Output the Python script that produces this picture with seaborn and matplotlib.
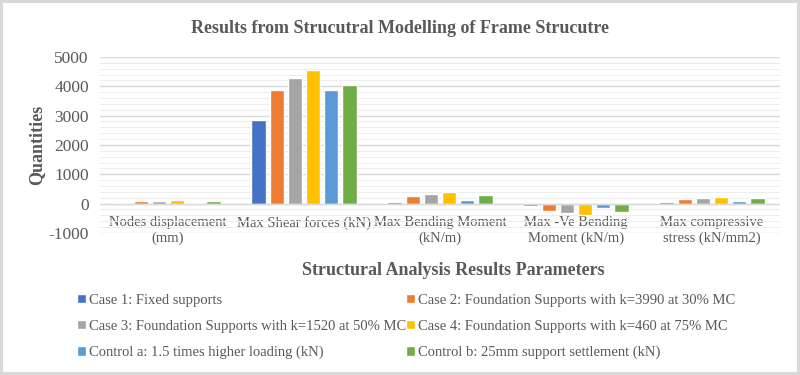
import pandas as pd
import matplotlib.pyplot as plt
import seaborn as sns
from matplotlib.ticker import MultipleLocator

categories = ['Nodes displacement\n(mm)', 'Max Shear forces (kN)', 'Max Bending Moment\n(kN/m)',
              'Max -Ve Bending\nMoment (kN/m)', 'Max compressive\nstress (kN/mm2)']
series = ['Case 1: Fixed supports',
          'Case 2: Foundation Supports with k=3990 at 30% MC',
          'Case 3: Foundation Supports with k=1520 at 50% MC',
          'Case 4: Foundation Supports with k=460 at 75% MC',
          'Control a: 1.5 times higher loading (kN)',
          'Control b: 25mm support settlement (kN)']
case1 = [5, 2865, 70, -100, 70]
case2 = [80, 3866, 270, -270, 160]
case3 = [90, 4290, 340, -330, 195]
case4 = [110, 4573, 380, -385, 225]
control_a = [5, 3890, 125, -160, 80]
control_b = [80, 4060, 305, -295, 180]
colors = ['#4472C4', '#ED7D31', '#A5A5A5', '#FFC000', '#5B9BD5', '#70AD47']

rows = []
for name, vals in zip(series, [case1, case2, case3, case4, control_a, control_b]):
    for cat, v in zip(categories, vals):
        rows.append({'Parameter': cat, 'Series': name, 'Value': v})
df = pd.DataFrame(rows)

sns.set_style('white')
plt.rcParams['font.family'] = ['Liberation Serif', 'DejaVu Serif']
plt.rcParams['axes.unicode_minus'] = False
grey = '#595959'

fig = plt.figure(figsize=(8, 3.75), dpi=100)
fig.patch.set_edgecolor('#D9D9D9')
fig.patch.set_linewidth(3)
ax = fig.add_axes([0.125, 0.379, 0.85, 0.469])

sns.barplot(data=df, x='Parameter', y='Value', hue='Series', palette=colors,
            width=0.8, gap=0.2, saturation=1, ax=ax, legend=True)

ax.set_ylim(-1000, 5000)
ax.yaxis.set_major_locator(MultipleLocator(1000))
ax.yaxis.set_minor_locator(MultipleLocator(200))
ax.grid(which='major', axis='y', color='#D9D9D9', linewidth=1)
ax.grid(which='minor', axis='y', color='#EDEDED', linewidth=0.8)
ax.set_axisbelow(True)
ax.axhline(0, color='#D9D9D9', linewidth=1, zorder=1)
for s in ax.spines.values():
    s.set_visible(False)
ax.tick_params(axis='both', which='both', length=0, colors=grey)
ax.tick_params(axis='y', labelsize=12.5, pad=8)
ax.tick_params(axis='x', labelsize=10.5, pad=-12)
ax.set_xticks(range(len(categories)))
ax.set_xticklabels(categories, color=grey)
ax.set_xlabel('Structural Analysis Results Parameters', fontsize=13, fontweight='bold',
              color=grey)
ax.xaxis.set_label_coords(0.519, -0.165)
ax.set_ylabel('Quantities', fontsize=13, fontweight='bold', color=grey)
ax.yaxis.set_label_coords(-0.08, 0.5)

fig.suptitle('Results from Strucutral Modelling of Frame Strucutre', fontsize=13,
             fontweight='bold', color=grey, y=0.947)

handles, labels = ax.get_legend_handles_labels()
ax.get_legend().remove()
order = [0, 2, 4, 1, 3, 5]
fig.legend([handles[i] for i in order], [labels[i] for i in order], ncol=2, loc='upper left',
           bbox_to_anchor=(0.08, 0.252), frameon=False, fontsize=10.5, labelcolor=grey,
           handlelength=0.6, handleheight=0.6, handletextpad=0.2, columnspacing=0.0,
           labelspacing=0.9)

fig.savefig('out.png', dpi=100, edgecolor=fig.get_edgecolor())
